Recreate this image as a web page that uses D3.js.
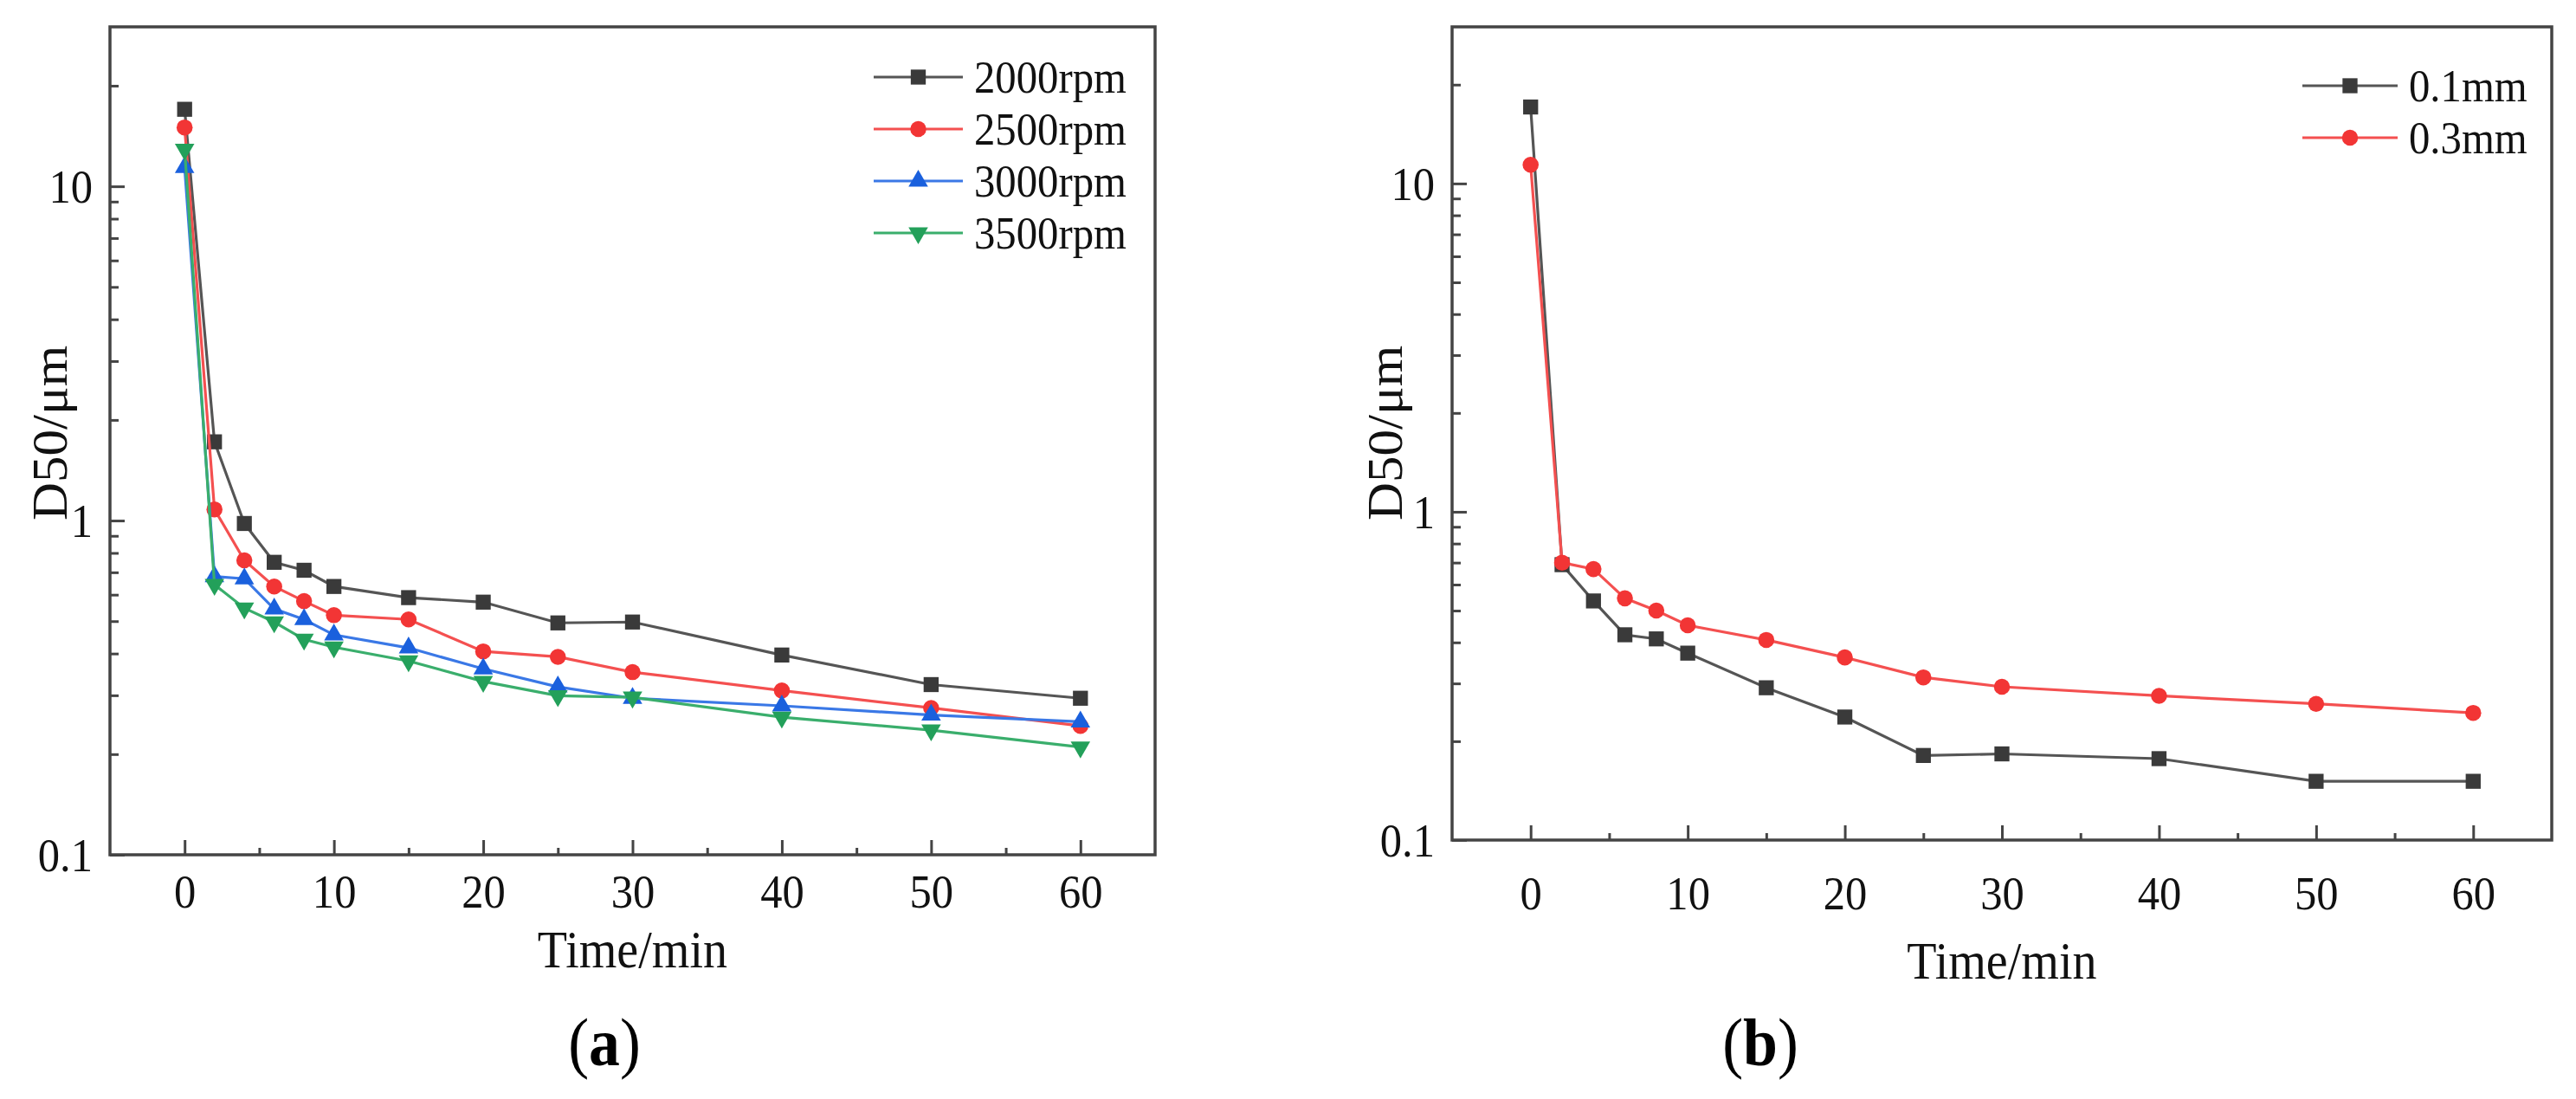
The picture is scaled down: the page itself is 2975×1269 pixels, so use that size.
<!DOCTYPE html>
<html>
<head>
<meta charset="utf-8">
<script src="https://cdn.jsdelivr.net/npm/d3@7"></script>
<style>
  body { margin: 0; background: #fff; }
  svg { display: block; }
  svg text { font-family: "Liberation Serif", "Times New Roman", serif; fill: #111; }
</style>
</head>
<body>
<script>
// data
const time = [0, 2, 4, 6, 8, 10, 15, 20, 25, 30, 40, 50, 60]

const rpm2000 = [17.0, 1.72, 0.98, 0.75, 0.71, 0.635, 0.588, 0.57, 0.494, 0.497, 0.396, 0.323, 0.294]
const rpm2500 = [15.0, 1.08, 0.76, 0.635, 0.574, 0.521, 0.506, 0.406, 0.391, 0.352, 0.31, 0.275, 0.243]
const rpm3000 = [11.4, 0.68, 0.67, 0.544, 0.506, 0.455, 0.416, 0.36, 0.318, 0.294, 0.279, 0.262, 0.25]
const rpm3500 = [12.9, 0.643, 0.547, 0.497, 0.441, 0.418, 0.38, 0.33, 0.299, 0.296, 0.258, 0.236, 0.21]

const mm01 = [17.1, 0.69, 0.535, 0.422, 0.41, 0.371, 0.291, 0.237, 0.181, 0.183, 0.177, 0.151, 0.151]
const mm03 = [11.4, 0.70, 0.669, 0.545, 0.50, 0.451, 0.407, 0.36, 0.313, 0.293, 0.275, 0.26, 0.244]

const xTicks = [0, 10, 20, 30, 40, 50, 60]
const xMinor = [5, 15, 25, 35, 45, 55]
const yTicks = [0.1, 1, 10]
const yMinor = [0.2, 0.3, 0.4, 0.5, 0.6, 0.7, 0.8, 0.9, 2, 3, 4, 5, 6, 7, 8, 9, 20]

const WIDTH = 2975
const HEIGHT = 1269
const SQX = 0.92   // the source figure is a little squeezed sideways
const AXIS = "#444"

const svg = d3.select("body").append("svg")
  .attr("width", WIDTH)
  .attr("height", HEIGHT)

svg.append("rect").attr("width", WIDTH).attr("height", HEIGHT).attr("fill", "#fff")

const markers = {
  square: { type: d3.symbolSquare, size: 300, rot: 0 },
  circle: { type: d3.symbolCircle, size: 270, rot: 0 },
  up: { type: d3.symbolTriangle, size: 220, rot: 0 },
  down: { type: d3.symbolTriangle, size: 220, rot: 180 },
}

function drawMarker(g, m, cx, cy, color) {
  g.append("path")
    .attr("d", d3.symbol().type(m.type).size(m.size)())
    .attr("transform", `translate(${cx},${cy}) rotate(${m.rot})`)
    .attr("fill", color)
}

function drawPanel(p) {
  const x = d3.scaleLinear().domain([-5, 65]).range([p.left, p.right])
  const y = d3.scaleLog().domain([0.1, 30]).range([p.bottom, p.top])
  const g = svg.append("g")

  // minor ticks, pointing inward
  g.append("g")
    .attr("transform", `translate(0,${p.bottom})`)
    .call(d3.axisBottom(x).tickValues(xMinor).tickSize(-8).tickFormat(""))
  g.append("g")
    .attr("transform", `translate(${p.left},0)`)
    .call(d3.axisLeft(y).tickValues(yMinor).tickSize(-10).tickFormat(""))

  // major ticks with labels
  const xa = g.append("g")
    .attr("transform", `translate(0,${p.bottom})`)
    .call(d3.axisBottom(x).tickValues(xTicks).tickSizeInner(-17).tickSizeOuter(0))
  xa.selectAll(".tick text")
    .attr("y", p.xLabelBase).attr("dy", null)
    .attr("transform", `scale(${SQX},1)`)

  const ya = g.append("g")
    .attr("transform", `translate(${p.left},0)`)
    .call(d3.axisLeft(y).tickValues(yTicks).tickFormat(d3.format("")).tickSizeInner(-17).tickSizeOuter(0))
  ya.selectAll(".tick text")
    .attr("x", -20 / SQX).attr("dy", "0.34em")
    .attr("transform", `scale(${SQX},1)`)

  g.selectAll(".domain").remove()
  g.selectAll(".tick line").attr("stroke", AXIS).attr("stroke-width", 3)
  g.selectAll(".tick text").style("font-size", "55px")

  // frame
  g.append("rect")
    .attr("x", p.left).attr("y", p.top)
    .attr("width", p.right - p.left).attr("height", p.bottom - p.top)
    .attr("fill", "none").attr("stroke", AXIS).attr("stroke-width", 3.5)

  // series
  const line = d3.line().x(d => x(d[0])).y(d => y(d[1]))
  p.series.forEach(s => {
    const pts = time.map((t, i) => [t, s.values[i]])
    g.append("path")
      .attr("d", line(pts))
      .attr("fill", "none")
      .attr("stroke", s.line)
      .attr("stroke-width", 3.2)
    pts.forEach(d => drawMarker(g, markers[s.marker], x(d[0]), y(d[1]), s.color))
  })

  // legend
  p.series.forEach((s, i) => {
    const ly = p.legend.y + i * p.legend.step
    g.append("line")
      .attr("x1", p.legend.x).attr("x2", p.legend.x + p.legend.len)
      .attr("y1", ly).attr("y2", ly)
      .attr("stroke", s.line).attr("stroke-width", 3.2)
    drawMarker(g, markers[s.marker], p.legend.x + p.legend.len / 2, ly, s.color)
    g.append("text")
      .attr("transform", `translate(${p.legend.x + p.legend.len + 13},${ly}) scale(${SQX},1)`)
      .attr("dy", "0.34em")
      .style("font-size", "53px")
      .text(s.name)
  })

  // axis titles
  g.append("text")
    .attr("transform", `translate(${(p.left + p.right) / 2},${p.xTitleBase}) scale(${SQX},1)`)
    .attr("text-anchor", "middle")
    .style("font-size", "61px")
    .text("Time/min")

  g.append("text")
    .attr("transform", `translate(${p.yTitleX},${p.yTitleY}) rotate(-90) scale(1,${SQX})`)
    .attr("text-anchor", "middle")
    .attr("dy", "0.34em")
    .style("font-size", "61px")
    .text("D50/μm")

  // caption
  const cap = g.append("text")
    .attr("transform", `translate(${p.capX},1230) scale(${SQX},1)`)
    .attr("text-anchor", "middle")
    .style("font-size", "78px")
    .style("fill", "#000")
  cap.append("tspan").text("(")
  cap.append("tspan").style("font-weight", "bold").text(p.cap)
  cap.append("tspan").text(")")
}

drawPanel({
  left: 127, right: 1334, top: 31, bottom: 987,
  xLabelBase: 61, xTitleBase: 1117,
  yTitleX: 58, yTitleY: 500,
  capX: 698, cap: "a",
  legend: { x: 1009, y: 89, step: 60, len: 103 },
  series: [
    { name: "2000rpm", values: rpm2000, marker: "square", color: "#3a3a3a", line: "#555" },
    { name: "2500rpm", values: rpm2500, marker: "circle", color: "#f23535", line: "#f45050" },
    { name: "3000rpm", values: rpm3000, marker: "up", color: "#1a60dd", line: "#3a78e6" },
    { name: "3500rpm", values: rpm3500, marker: "down", color: "#23a05a", line: "#3aae6c" },
  ],
})

drawPanel({
  left: 1677, right: 2947, top: 31, bottom: 970,
  xLabelBase: 80, xTitleBase: 1130,
  yTitleX: 1600, yTitleY: 500,
  capX: 2033, cap: "b",
  legend: { x: 2659, y: 99, step: 60, len: 110 },
  series: [
    { name: "0.1mm", values: mm01, marker: "square", color: "#3a3a3a", line: "#555" },
    { name: "0.3mm", values: mm03, marker: "circle", color: "#f23535", line: "#f45050" },
  ],
})
</script>
</body>
</html>
